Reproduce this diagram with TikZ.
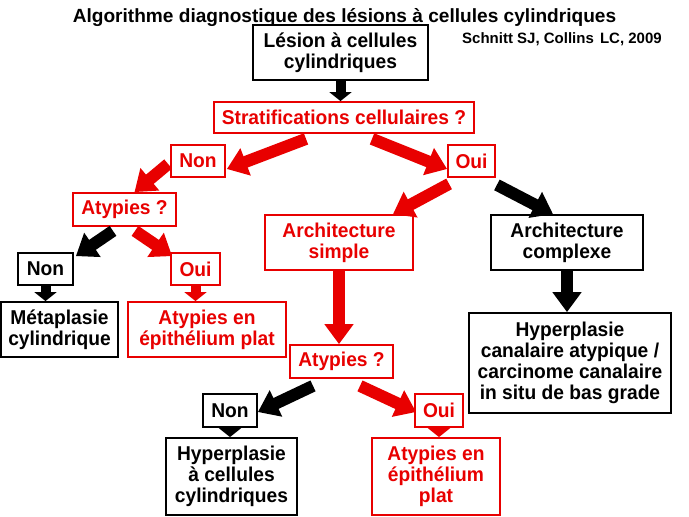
\documentclass[tikz,border=0pt]{standalone}
\usepackage{fontspec}
\setmainfont{Liberation Sans}
\newfontfamily\narrowf{Liberation Sans}[FakeStretch=0.96]
\usetikzlibrary{arrows.meta,calc}
\definecolor{rd}{RGB}{232,0,0}
\begin{document}
\begin{tikzpicture}[x=1pt,y=-1pt,
  box/.style={draw, line width=1.8pt, fill=white, inner sep=0pt, align=center,
    font=\narrowf\bfseries\fontsize{20}{20.8}\selectfont},
  rbox/.style={box, draw=rd, text=rd},
  kbox/.style={box, draw=black, text=black},
  big/.style={line width=12pt, -{Triangle[length=20pt,width=28pt]}},
  small/.style={line width=10pt, -{Triangle[length=9pt,width=22pt]}},
]
\useasboundingbox (0,0) rectangle (689,517);

% title and reference
\node[anchor=base, inner sep=0pt, font=\bfseries\fontsize{19.1}{20}\selectfont] (title) at (344.5,22) {Algorithme diagnostique des lésions à cellules cylindriques};
\node[anchor=base west, inner sep=0pt, font=\bfseries\fontsize{15}{16}\selectfont] (ref) at (462,43) {Schnitt SJ, Collins\hspace{2pt} LC, 2009};

% boxes
\node[kbox, minimum width=175, minimum height=55] (lesion) at (340.5,52.5) {Lésion à cellules\\cylindriques};
\node[rbox, minimum width=260, minimum height=31] (strat) at (344,117.5) {Stratifications cellulaires ?};
\node[rbox, minimum width=54, minimum height=32] (non1) at (198,161) {Non};
\node[rbox, minimum width=47, minimum height=32] (oui1) at (471.5,161) {Oui};
\node[rbox, minimum width=103, minimum height=33] (aty1) at (124.5,209.5) {Atypies ?};
\node[rbox, minimum width=148, minimum height=55] (archs) at (339,242.5) {Architecture\\simple};
\node[kbox, minimum width=152, minimum height=55] (archc) at (567,242.5) {Architecture\\complexe};
\node[kbox, minimum width=202, minimum height=100] (hca) at (570,363) {Hyperplasie\\canalaire atypique /\\carcinome canalaire\\in situ de bas grade};
\node[kbox, minimum width=55, minimum height=32] (non2) at (45.5,269) {Non};
\node[rbox, minimum width=49, minimum height=32] (oui2) at (195.5,269) {Oui};
\node[kbox, minimum width=117, minimum height=55] (meta) at (59.5,329.5) {Métaplasie\\cylindrique};
\node[rbox, minimum width=158, minimum height=55] (aep1) at (207,329.5) {Atypies en\\épithélium plat};
\node[rbox, minimum width=103, minimum height=33] (aty2) at (341.5,361.5) {Atypies ?};
\node[kbox, minimum width=54, minimum height=33] (non3) at (230,410.5) {Non};
\node[rbox, minimum width=48, minimum height=33] (oui3) at (439,410.5) {Oui};
\node[kbox, minimum width=131, minimum height=77] (hcc) at (231.5,476.5) {Hyperplasie\\à cellules\\cylindriques};
\node[rbox, minimum width=128, minimum height=77] (aep2) at (436,476.5) {Atypies en\\épithélium\\plat};

% connectors
\draw[small, black] (lesion.south) -- (lesion.south |- strat.north);
\draw[big, rd] ($(strat.south)+(-38,5)$) -- ($(non1.east)+(1,8)$);
\draw[big, rd] ($(strat.south)+(28,5)$) -- ($(oui1.west)+(0,8)$);
\draw[big, rd] ($(non1.west)+(-2,3)$) -- ($(aty1.north)+(10,0)$);
\draw[big, rd] ($(oui1.south west)+(2,6)$) -- ($(archs.north)+(54,0)$);
\draw[big, black] ($(oui1.south east)+(1,7)$) -- ($(archc.north)+(-14,0)$);
\draw[big, black] ($(aty1.south)+(-11.5,4)$) -- ($(non2.north east)+(2,4)$);
\draw[big, rd] ($(aty1.south)+(10.5,4)$) -- ($(oui2.north west)+(2,4)$);
\draw[small, black] (non2.south) -- (non2.south |- meta.north);
\draw[small, rd] (oui2.south) -- (oui2.south |- aep1.north);
\draw[big, rd] (archs.south) -- (archs.south |- aty2.north);
\draw[big, black] (archc.south) -- (archc.south |- hca.north);
\draw[big, black] ($(aty2.south)+(-28.5,7)$) -- ($(non3.east)+(0,1.5)$);
\draw[big, rd] ($(aty2.south)+(18.5,7)$) -- ($(oui3.west)+(2,1.5)$);
\draw[small, black] (non3.south) -- (non3.south |- hcc.north);
\draw[small, rd] (oui3.south) -- (oui3.south |- aep2.north);
\end{tikzpicture}
\end{document}
